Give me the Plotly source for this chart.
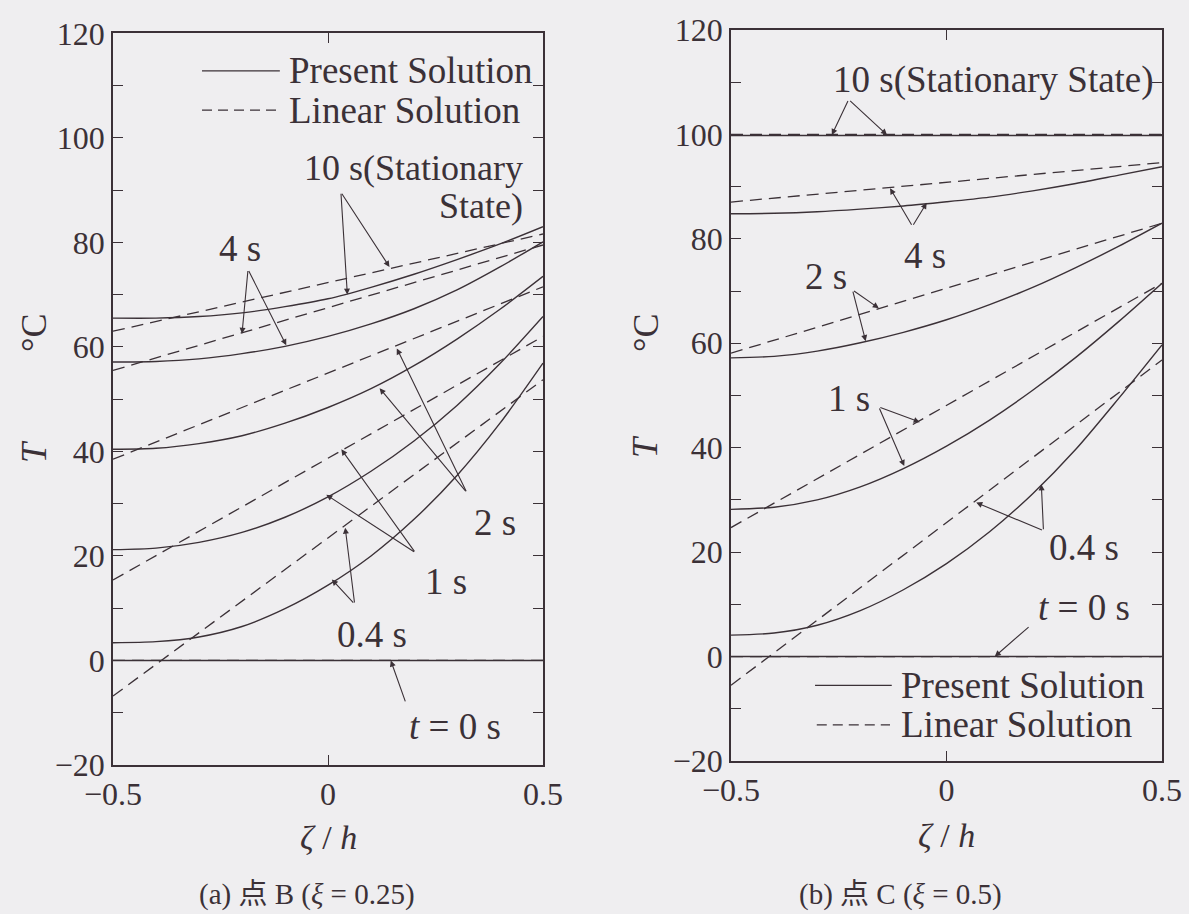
import plotly.graph_objects as go

# ---------------- data ----------------
ZETA = [-0.5, -0.4, -0.3, -0.2, -0.1, 0.0, 0.1, 0.2, 0.3, 0.4, 0.5]
ZETA_ENDS = [-0.5, 0.5]
TIME_LABELS = ["t = 0 s", "0.4 s", "1 s", "2 s", "4 s", "10 s"]

# (a) point B (xi = 0.25) -- present (nonlinear) solution
A_PRES_T0 = [0.0, 0.0]
A_PRES_04 = [3.4, 3.6, 4.5, 6.5, 9.9, 14.4, 20.0, 27.0, 35.4, 45.4, 56.9]
A_PRES_1 = [21.2, 21.5, 22.6, 24.5, 27.4, 31.3, 36.2, 42.0, 48.8, 56.8, 65.8]
A_PRES_2 = [40.4, 40.6, 41.5, 43.0, 45.4, 48.4, 52.0, 56.4, 61.5, 67.2, 73.5]
A_PRES_4 = [57.1, 57.2, 57.7, 58.7, 60.1, 62.0, 64.4, 67.3, 70.9, 75.3, 80.1]
A_PRES_10 = [65.5, 65.5, 65.8, 66.5, 67.7, 69.2, 71.4, 73.9, 76.7, 79.7, 83.0]
# (a) linear solution (straight lines, end values)
A_LIN_T0 = [0.0, 0.0]
A_LIN_04 = [-6.8, 53.7]
A_LIN_1 = [15.4, 62.0]
A_LIN_2 = [38.5, 71.5]
A_LIN_4 = [55.5, 79.5]
A_LIN_10 = [63.0, 81.6]

# (b) point C (xi = 0.5) -- present solution
B_PRES_T0 = [0.0, 0.0]
B_PRES_04 = [4.1, 4.5, 6.0, 8.8, 12.8, 17.8, 23.9, 31.2, 39.7, 49.5, 59.7]
B_PRES_1 = [28.2, 28.6, 30.0, 32.5, 36.0, 40.3, 45.3, 51.0, 57.3, 64.2, 71.5]
B_PRES_2 = [57.2, 57.5, 58.5, 60.1, 62.1, 64.5, 67.4, 70.7, 74.5, 78.6, 83.0]
B_PRES_4 = [84.8, 84.9, 85.2, 85.7, 86.3, 87.1, 88.0, 89.2, 90.6, 92.2, 93.8]
B_PRES_10 = [99.8, 99.8]
# (b) linear solution
B_LIN_T0 = [0.0, 0.0]
B_LIN_04 = [-5.5, 56.8]
B_LIN_1 = [24.7, 71.5]
B_LIN_2 = [58.1, 83.0]
B_LIN_4 = [87.05, 94.6]
B_LIN_10 = [100.0, 100.0]

Y_TICKS = [-20, 0, 20, 40, 60, 80, 100, 120]
X_TICKS = [-0.5, 0, 0.5]
X_TICK_TEXT = ["\u22120.5", "0", "0.5"]
Y_TICK_TEXT = ["\u221220", "0", "20", "40", "60", "80", "100", "120"]

# ---------------- style ----------------
W, H = 1189, 914
INK = "#3b3137"
BG = "#efeef0"
SERIF = "Liberation Serif, Times New Roman, serif"
CAP_FONT = "Liberation Serif, Noto Sans CJK SC, serif"
DASH = "12px,7px"

fig = go.Figure()

panels = [
    ("x", "y",
     [A_PRES_T0, A_PRES_04, A_PRES_1, A_PRES_2, A_PRES_4, A_PRES_10],
     [A_LIN_T0, A_LIN_04, A_LIN_1, A_LIN_2, A_LIN_4, A_LIN_10]),
    ("x2", "y2",
     [B_PRES_T0, B_PRES_04, B_PRES_1, B_PRES_2, B_PRES_4, B_PRES_10],
     [B_LIN_T0, B_LIN_04, B_LIN_1, B_LIN_2, B_LIN_4, B_LIN_10]),
]

for xa, ya, pres, lin in panels:
    for lab, vals in zip(TIME_LABELS, lin):
        fig.add_trace(go.Scatter(x=ZETA_ENDS, y=vals, mode="lines", xaxis=xa, yaxis=ya,
                                 name="Linear " + lab, showlegend=False,
                                 line=dict(color=INK, width=1.3, dash=DASH)))
    for lab, vals in zip(TIME_LABELS, pres):
        xs = ZETA if len(vals) == len(ZETA) else ZETA_ENDS
        fig.add_trace(go.Scatter(x=xs, y=vals, mode="lines", xaxis=xa, yaxis=ya,
                                 name="Present " + lab, showlegend=False,
                                 line=dict(color=INK, width=1.4, shape="spline", smoothing=0.8)))

def px2fx(p):
    return p / W

def px2fy(p):
    return 1 - p / H

axis_common = dict(
    showgrid=False, zeroline=False, showline=True, mirror="ticks", automargin=False,
    linecolor=INK, linewidth=1.8, ticks="inside", ticklen=10, tickwidth=1.3,
    tickcolor=INK, tickfont=dict(family=SERIF, size=32, color=INK),
)

fig.update_layout(
    template="none",
    width=W, height=H, margin=dict(l=0, r=0, t=0, b=0, pad=0), autosize=False,
    paper_bgcolor=BG, plot_bgcolor=BG, showlegend=False,
    xaxis=dict(domain=[px2fx(113), px2fx(543)], range=[-0.5, 0.5], anchor="y",
               tickvals=X_TICKS, ticktext=X_TICK_TEXT, **axis_common),
    yaxis=dict(domain=[px2fy(765), px2fy(33.3)], range=[-20, 120], anchor="x",
               tickvals=Y_TICKS, ticktext=Y_TICK_TEXT,
               minor=dict(dtick=10, ticks="inside", ticklen=10, tickwidth=1.3, tickcolor=INK),
               **axis_common),
    xaxis2=dict(domain=[px2fx(731), px2fx(1162)], range=[-0.5, 0.5], anchor="y2",
                tickvals=X_TICKS, ticktext=X_TICK_TEXT, **axis_common),
    yaxis2=dict(domain=[px2fy(761), px2fy(30)], range=[-20, 120], anchor="x2",
                tickvals=Y_TICKS, ticktext=Y_TICK_TEXT,
                minor=dict(dtick=10, ticks="inside", ticklen=10, tickwidth=1.3, tickcolor=INK),
                **axis_common),
)

anns = []
shapes = []
TXT = dict(family=SERIF, size=37, color=INK)

def label(xr, yr, x, y, text, xanchor="center", size=37):
    anns.append(dict(xref=xr, yref=yr, x=x, y=y, text=text, showarrow=False,
                     font=dict(family=SERIF, size=size, color=INK),
                     xanchor=xanchor, yanchor="middle"))

def arrow(xr, yr, tail, tip):
    anns.append(dict(xref=xr, yref=yr, axref=xr, ayref=yr, x=tip[0], y=tip[1],
                     ax=tail[0], ay=tail[1], text="", showarrow=True,
                     arrowhead=2, arrowsize=1.1, arrowwidth=1.1, arrowcolor=INK,
                     standoff=0, startstandoff=0))

# ---- panel (a) annotations ----
label("x", "y", 0.458, 94.2, "10 s(Stationary", "right", size=36)
label("x", "y", 0.458, 87.0, "State)", "right", size=36)
arrow("x", "y", (0.03, 89.6), (0.045, 70.0))
arrow("x", "y", (0.03, 89.6), (0.143, 75.3))
label("x", "y", -0.204, 78.8, "4 s")
arrow("x", "y", (-0.186, 74.8), (-0.2, 62.5))
arrow("x", "y", (-0.186, 74.8), (-0.097, 60.3))
label("x", "y", 0.389, 26.4, "2 s")
arrow("x", "y", (0.323, 32.1), (0.12, 52.1))
arrow("x", "y", (0.323, 32.1), (0.16, 59.7))
label("x", "y", 0.274, 15.2, "1 s")
arrow("x", "y", (0.2035, 20.6), (-0.004, 31.7))
arrow("x", "y", (0.2035, 20.6), (0.031, 40.4))
label("x", "y", 0.102, 5.0, "0.4 s")
arrow("x", "y", (0.062, 10.8), (0.009, 15.5))
arrow("x", "y", (0.062, 10.8), (0.04, 25.4))
label("x", "y", 0.296, -12.6, "<i>t</i> = 0 s")
arrow("x", "y", (0.181, -8.1), (0.146, 0.0))
# legend (a)
shapes.append(dict(type="line", xref="x", yref="y", x0=-0.293, x1=-0.112, y0=112.8, y1=112.8,
                   line=dict(color=INK, width=1.3)))
shapes.append(dict(type="line", xref="x", yref="y", x0=-0.293, x1=-0.112, y0=105.3, y1=105.3,
                   line=dict(color=INK, width=1.3, dash="10px,6px")))
label("x", "y", -0.095, 112.8, "Present Solution", "left")
label("x", "y", -0.095, 105.3, "Linear Solution", "left")

# ---- panel (b) annotations ----
label("x2", "y2", 0.109, 110.4, "10 s(Stationary State)")
arrow("x2", "y2", (-0.227, 106.7), (-0.266, 99.9))
arrow("x2", "y2", (-0.227, 106.7), (-0.138, 99.9))
label("x2", "y2", -0.049, 76.9, "4 s")
arrow("x2", "y2", (-0.079, 82.4), (-0.131, 89.7))
arrow("x2", "y2", (-0.079, 82.4), (-0.046, 86.9))
label("x2", "y2", -0.279, 72.8, "2 s")
arrow("x2", "y2", (-0.218, 70.2), (-0.157, 66.7))
arrow("x2", "y2", (-0.218, 70.2), (-0.1875, 60.4))
label("x2", "y2", -0.227, 49.4, "1 s")
arrow("x2", "y2", (-0.157, 47.8), (-0.062, 44.9))
arrow("x2", "y2", (-0.157, 47.8), (-0.098, 36.5))
label("x2", "y2", 0.32, 20.9, "0.4 s")
arrow("x2", "y2", (0.225, 24.1), (0.069, 29.5))
arrow("x2", "y2", (0.225, 24.1), (0.22, 33.0))
label("x2", "y2", 0.32, 9.4, "<i>t</i> = 0 s")
arrow("x2", "y2", (0.194, 5.9), (0.112, 0.0))
# legend (b)
shapes.append(dict(type="line", xref="x2", yref="y2", x0=-0.305, x1=-0.127, y0=-5.5, y1=-5.5,
                   line=dict(color=INK, width=1.3)))
shapes.append(dict(type="line", xref="x2", yref="y2", x0=-0.301, x1=-0.131, y0=-13.1, y1=-13.1,
                   line=dict(color=INK, width=1.3, dash="10px,6px")))
label("x2", "y2", -0.11, -5.5, "Present Solution", "left")
label("x2", "y2", -0.11, -13.1, "Linear Solution", "left")

# ---- axis titles (paper coords) ----
def ptext(x, y, text, size=36, angle=0, family=SERIF):
    anns.append(dict(xref="paper", yref="paper", x=px2fx(x), y=px2fy(y), text=text,
                     showarrow=False, textangle=angle, xanchor="center", yanchor="middle",
                     font=dict(family=family, size=size, color=INK)))

ptext(34, 452, "<i>T</i>", angle=-90)
ptext(34, 333, "°C", angle=-90)
ptext(645, 447, "<i>T</i>", angle=-90)
ptext(646, 333, "°C", angle=-90)
ptext(328, 837, "<i>ζ</i> / <i>h</i>", size=34)
ptext(946, 835, "<i>ζ</i> / <i>h</i>", size=34)
ptext(307, 894, "(a) 点 B (<i>ξ</i> = 0.25)", size=29, family=CAP_FONT)
ptext(900, 894, "(b) 点 C (<i>ξ</i> = 0.5)", size=29, family=CAP_FONT)

fig.update_layout(annotations=anns, shapes=shapes)
fig.write_html(
    "out.html",
    config={"displayModeBar": False},
    post_script=("document.body.style.margin='0px';"
                 "document.body.style.backgroundColor='#efeef0';"
                 "document.documentElement.style.overflow='hidden';"),
)
